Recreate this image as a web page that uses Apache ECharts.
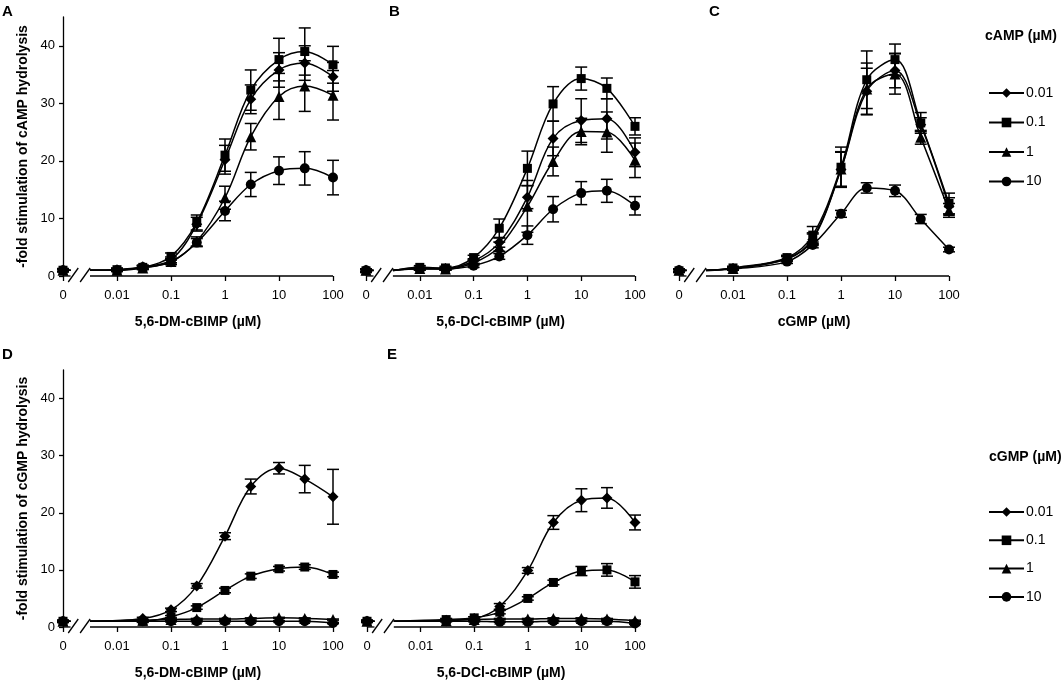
<!DOCTYPE html>
<html><head><meta charset="utf-8">
<script src="https://cdn.jsdelivr.net/npm/echarts@6/dist/echarts.min.js"></script>
<style>html,body{margin:0;padding:0;background:#fff}#c{width:1063px;height:681px}</style>
</head><body><div id="c"></div>
<script>
// ---------------- DATA ----------------
const conc = [0, 0.01, 0.03, 0.1, 0.3, 1, 3, 10, 30, 100];
const xTickLabels = ['0', '0.01', '0.1', '1', '10', '100'];
const yTickValues = [0, 10, 20, 30, 40];
const seriesNames = ['0.01', '0.1', '1', '10'];

// Panel A (5,6-DM-cBIMP, cAMP hydrolysis)
const A_001 = [1.0, 1.1, 1.6, 2.8, 9.0, 20.2, 30.7, 35.8, 37.0, 34.6];
const A_001_err = [0.2, 0.2, 0.3, 0.5, 1.2, 2.5, 2.5, 3.0, 3.0, 2.5];
const A_01 = [1.0, 1.1, 1.5, 3.4, 9.3, 21.0, 32.3, 37.6, 39.0, 36.7];
const A_01_err = [0.3, 0.3, 0.3, 0.6, 1.3, 2.8, 3.5, 3.7, 4.1, 3.2];
const A_1 = [1.0, 1.0, 1.4, 2.5, 6.0, 13.6, 24.2, 31.2, 33.0, 31.4];
const A_1_err = [0.2, 0.2, 0.3, 0.5, 0.8, 2.0, 2.3, 4.0, 4.4, 4.3];
const A_10 = [1.0, 1.0, 1.5, 2.4, 5.8, 11.3, 15.9, 18.3, 18.7, 17.1];
const A_10_err = [0.2, 0.2, 0.3, 0.4, 0.7, 1.7, 2.1, 2.4, 2.9, 3.0];

// Panel B (5,6-DCl-cBIMP, cAMP hydrolysis)
const B_001 = [1.0, 1.3, 1.3, 2.6, 5.8, 13.7, 23.9, 27.0, 27.3, 21.5];
const B_001_err = [0.2, 0.2, 0.2, 0.4, 0.8, 2.0, 3.0, 3.8, 3.5, 2.5];
const B_01 = [0.9, 1.5, 1.4, 3.2, 8.3, 18.7, 29.9, 34.3, 32.6, 26.0];
const B_01_err = [0.3, 0.3, 0.3, 0.4, 1.6, 3.0, 3.0, 2.0, 1.8, 1.5];
const B_1 = [1.0, 1.3, 1.2, 2.3, 5.1, 12.1, 19.9, 25.1, 25.0, 20.1];
const B_1_err = [0.2, 0.2, 0.2, 0.4, 0.8, 4.5, 2.5, 2.3, 3.5, 3.0];
const B_10 = [1.0, 1.2, 1.2, 1.8, 3.4, 7.1, 11.6, 14.4, 14.8, 12.2];
const B_10_err = [0.2, 0.2, 0.2, 0.3, 0.5, 1.6, 2.2, 2.0, 2.0, 1.6];

// Panel C (cGMP, cAMP hydrolysis)
const C_001 = [1.0, 1.3, null, 3.0, 6.3, 18.5, 32.1, 35.7, 26.3, 12.1];
const C_001_err = [0.2, 0.2, null, 0.4, 1.0, 3.0, 4.0, 3.0, 1.2, 1.5];
const C_01 = [0.9, 1.4, null, 3.2, 7.1, 18.9, 34.1, 37.6, 26.6, 12.6];
const C_01_err = [0.3, 0.3, null, 0.4, 1.5, 3.5, 5.0, 2.7, 1.8, 1.8];
const C_1 = [1.0, 1.3, null, 3.0, 6.5, 18.6, 32.5, 35.1, 24.1, 11.4];
const C_1_err = [0.2, 0.2, null, 0.4, 1.0, 3.0, 4.5, 3.5, 1.2, 1.2];
const C_10 = [1.0, 1.2, null, 2.5, 5.4, 10.8, 15.3, 14.8, 9.9, 4.6];
const C_10_err = [0.2, 0.2, null, 0.3, 0.5, 0.6, 0.9, 1.0, 0.8, 0.4];

// Panel D (5,6-DM-cBIMP, cGMP hydrolysis)
const D_001 = [1.0, null, 1.5, 3.0, 7.2, 15.9, 24.6, 27.8, 25.9, 22.8];
const D_001_err = [0.2, null, 0.2, 0.3, 0.4, 0.6, 1.3, 1.0, 2.4, 4.8];
const D_01 = [1.0, null, 1.0, 1.8, 3.4, 6.4, 8.9, 10.2, 10.5, 9.2];
const D_01_err = [0.2, null, 0.2, 0.2, 0.3, 0.4, 0.4, 0.4, 0.4, 0.4];
const D_1 = [1.0, null, 1.2, 1.3, 1.4, 1.4, 1.5, 1.6, 1.5, 1.3];
const D_1_err = [0.1, null, 0.1, 0.1, 0.1, 0.1, 0.1, 0.1, 0.1, 0.1];
const D_10 = [1.0, null, 1.0, 1.0, 1.0, 1.0, 1.0, 1.0, 1.0, 0.7];
const D_10_err = [0.1, null, 0.1, 0.1, 0.1, 0.1, 0.1, 0.1, 0.1, 0.1];

// Panel E (5,6-DCl-cBIMP, cGMP hydrolysis)
const E_001 = [1.0, null, 1.2, 1.5, 3.6, 9.9, 18.3, 22.2, 22.6, 18.3];
const E_001_err = [0.2, null, 0.2, 0.3, 0.5, 0.5, 1.2, 2.0, 1.8, 1.3];
const E_01 = [1.0, null, 1.3, 1.6, 2.6, 5.0, 7.8, 9.8, 10.0, 7.9];
const E_01_err = [0.2, null, 0.2, 0.2, 0.3, 0.3, 0.4, 0.8, 1.1, 1.1];
const E_1 = [1.0, null, 1.1, 1.3, 1.4, 1.4, 1.5, 1.5, 1.4, 1.1];
const E_1_err = [0.1, null, 0.1, 0.1, 0.1, 0.1, 0.1, 0.1, 0.1, 0.1];
const E_10 = [1.0, null, 1.0, 1.0, 0.9, 0.9, 1.0, 1.0, 1.0, 0.6];
const E_10_err = [0.1, null, 0.1, 0.1, 0.1, 0.1, 0.1, 0.1, 0.1, 0.1];

// ---------------- LAYOUT / STYLE ----------------
const FONT = '"Liberation Sans", Arial, Helvetica, sans-serif';
const XMIN = 0.001, XMAX = 100;        // "0" is drawn at the 0.001 position
const BRK_LO = -2.86, BRK_HI = -2.50;  // axis break (log10 units)
const SLASH1 = -2.81, SLASH2 = -2.59;
const symbols = ['diamond', 'rect', 'triangle', 'circle'];
const symSizes = [11, 9, 11, 10];

const panels = [
  { label: 'A', vals: [A_001, A_01, A_1, A_10], errs: [A_001_err, A_01_err, A_1_err, A_10_err],
    xName: '5,6-DM-cBIMP (µM)', yName: '-fold stimulation of cAMP hydrolysis', showY: true,
    grid: { left: 63, top: 17, width: 270, height: 259 }, lab: [2, 4] },
  { label: 'B', vals: [B_001, B_01, B_1, B_10], errs: [B_001_err, B_01_err, B_1_err, B_10_err],
    xName: '5,6-DCl-cBIMP (µM)', yName: '', showY: false,
    grid: { left: 366, top: 17, width: 269, height: 259 }, lab: [389, 4] },
  { label: 'C', vals: [C_001, C_01, C_1, C_10], errs: [C_001_err, C_01_err, C_1_err, C_10_err],
    xName: 'cGMP (µM)', yName: '', showY: false,
    grid: { left: 679, top: 17, width: 270, height: 259 }, lab: [709, 4] },
  { label: 'D', vals: [D_001, D_01, D_1, D_10], errs: [D_001_err, D_01_err, D_1_err, D_10_err],
    xName: '5,6-DM-cBIMP (µM)', yName: '-fold stimulation of cGMP hydrolysis', showY: true,
    grid: { left: 63, top: 370, width: 270, height: 259 }, lab: [2, 347] },
  { label: 'E', vals: [E_001, E_01, E_1, E_10], errs: [E_001_err, E_01_err, E_1_err, E_10_err],
    xName: '5,6-DCl-cBIMP (µM)', yName: '', showY: false,
    grid: { left: 367, top: 370, width: 268, height: 259 }, lab: [387, 347] },
];

const xPos = c => (c === 0 ? XMIN : c);
const axisColor = '#000';

const grids = [], xAxes = [], yAxes = [], series = [], titles = [];

panels.forEach((p, gi) => {
  grids.push(Object.assign({ containLabel: false }, p.grid));
  xAxes.push({
    gridIndex: gi, type: 'log', logBase: 10, min: XMIN, max: XMAX,
    axisLine: { show: false },
    axisTick: { show: true, length: 5, lineStyle: { color: axisColor, width: 1.3 } },
    splitLine: { show: false }, minorTick: { show: false },
    axisLabel: { color: '#000', fontSize: 13, fontFamily: FONT, margin: 13,
      formatter: (v, i) => xTickLabels[Math.round(Math.log10(v) + 3)] },
    name: p.xName, nameLocation: 'middle', nameGap: 39,
    nameTextStyle: { color: '#000', fontSize: 14, fontWeight: 'bold', fontFamily: FONT }
  });
  yAxes.push({
    gridIndex: gi, type: 'value', min: 0, max: 45, show: p.showY,
    axisLine: { show: true, lineStyle: { color: axisColor, width: 1.3 } },
    axisTick: { show: true, length: 4, customValues: yTickValues, lineStyle: { color: axisColor, width: 1.3 } },
    splitLine: { show: false },
    axisLabel: { customValues: yTickValues, color: '#000', fontSize: 13, fontFamily: FONT, margin: 8 },
    name: p.yName, nameLocation: 'middle', nameRotate: 90, nameGap: 33,
    nameTextStyle: { color: '#000', fontSize: 14, fontWeight: 'bold', fontFamily: FONT }
  });
  titles.push({ text: p.label, left: p.lab[0], top: p.lab[1], padding: 0,
    textStyle: { fontSize: 15, fontWeight: 'bold', color: '#000', fontFamily: FONT } });

  // x-axis line with break
  series.push({
    type: 'custom', xAxisIndex: gi, yAxisIndex: gi, silent: true, clip: false, z: 1,
    data: [[XMIN, 0]],
    renderItem: (params, api) => {
      const a = api.coord([XMIN, 0]);
      const b = api.coord([Math.pow(10, BRK_LO), 0]);
      const c = api.coord([Math.pow(10, BRK_HI), 0]);
      const d = api.coord([XMAX, 0]);
      const s1 = api.coord([Math.pow(10, SLASH1), 0]);
      const s2 = api.coord([Math.pow(10, SLASH2), 0]);
      const st = { stroke: '#000', lineWidth: 1.3 };
      return { type: 'group', children: [
        { type: 'line', shape: { x1: a[0], y1: a[1], x2: b[0], y2: b[1] }, style: st },
        { type: 'line', shape: { x1: c[0], y1: c[1], x2: d[0], y2: d[1] }, style: st },
        { type: 'line', shape: { x1: s1[0] - 5, y1: s1[1] + 6, x2: s1[0] + 5, y2: s1[1] - 8 }, style: st },
        { type: 'line', shape: { x1: s2[0] - 5, y1: s2[1] + 6, x2: s2[0] + 5, y2: s2[1] - 8 }, style: st },
      ] };
    }
  });

  p.vals.forEach((vals, si) => {
    const errs = p.errs[si];
    // error bars
    const eData = [];
    conc.forEach((c, k) => {
      if (vals[k] == null || errs[k] == null) return;
      eData.push([xPos(c), vals[k] - errs[k], vals[k] + errs[k]]);
    });
    series.push({
      type: 'custom', xAxisIndex: gi, yAxisIndex: gi, silent: true, z: 2,
      encode: { x: 0, y: [1, 2] }, data: eData,
      renderItem: (params, api) => {
        const x = api.value(0), lo = api.value(1), hi = api.value(2);
        const p1 = api.coord([x, hi]), p2 = api.coord([x, lo]);
        const w = 6, st = { stroke: '#000', lineWidth: 1.5 };
        return { type: 'group', children: [
          { type: 'line', shape: { x1: p1[0], y1: p1[1], x2: p2[0], y2: p2[1] }, style: st },
          { type: 'line', shape: { x1: p1[0] - w, y1: p1[1], x2: p1[0] + w, y2: p1[1] }, style: st },
          { type: 'line', shape: { x1: p2[0] - w, y1: p2[1], x2: p2[0] + w, y2: p2[1] }, style: st },
        ] };
      }
    });
    // curve + markers
    const y0 = vals[0];
    const lData = [
      { value: [xPos(conc[0]), y0] },
      { value: [Math.pow(10, BRK_LO), y0], symbol: 'none' },
      { value: [Math.pow(10, (BRK_LO + BRK_HI) / 2), null], symbol: 'none' },
      { value: [Math.pow(10, BRK_HI), y0], symbol: 'none' },
    ];
    conc.forEach((c, k) => {
      if (k === 0 || vals[k] == null) return;
      lData.push({ value: [c, vals[k]] });
    });
    series.push({
      name: seriesNames[si], type: 'line', xAxisIndex: gi, yAxisIndex: gi,
      smooth: 0.35, connectNulls: false, clip: false,
      symbol: symbols[si], symbolSize: symSizes[si], showSymbol: true,
      itemStyle: { color: '#000', borderWidth: 0 },
      lineStyle: { color: '#000', width: 1.5 },
      emphasis: { disabled: true },
      z: si === 1 ? 4 : 3,
      data: lData
    });
  });
});

const legendCommon = {
  orient: 'vertical', left: 988, padding: 0, itemWidth: 35, itemHeight: 12,
  data: seriesNames, selectedMode: false,
  textStyle: { color: '#000', fontSize: 14, fontFamily: FONT, padding: [0, 0, 0, -3] }
};

titles.push({ text: 'cAMP (µM)', left: 985, top: 29, padding: 0,
  textStyle: { fontSize: 14, fontWeight: 'bold', color: '#000', fontFamily: FONT } });
titles.push({ text: 'cGMP (µM)', left: 989, top: 450, padding: 0,
  textStyle: { fontSize: 14, fontWeight: 'bold', color: '#000', fontFamily: FONT } });

const chart = echarts.init(document.getElementById('c'), null, { renderer: 'canvas' });
chart.setOption({
  animation: false,
  backgroundColor: '#fff',
  title: titles,
  legend: [
    Object.assign({ top: 86, itemGap: 15.5 }, legendCommon),
    Object.assign({ top: 505, itemGap: 14.3 }, legendCommon)
  ],
  grid: grids, xAxis: xAxes, yAxis: yAxes, series: series
});
</script></body></html>
